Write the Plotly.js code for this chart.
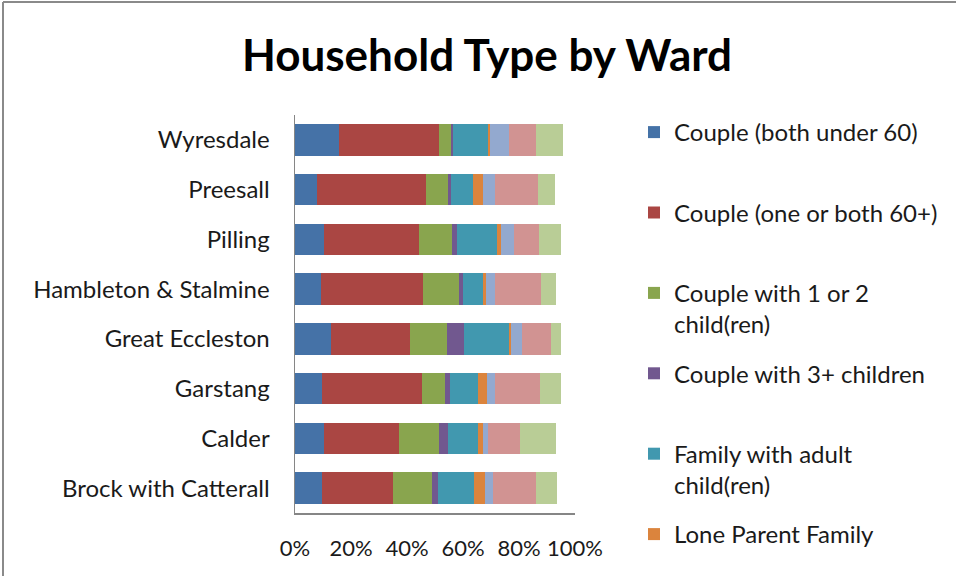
<!DOCTYPE html>
<html>
<head>
<meta charset="utf-8">
<script src="https://cdn.plot.ly/plotly-3.0.1.min.js"></script>
<style>html,body{margin:0;padding:0;background:#fff;}#chart{width:956px;height:576px;}</style>
</head>
<body>
<div id="chart"></div>
<script>
// Wards, bottom to top as drawn
const wards = ["Brock with Catterall","Calder","Garstang","Great Eccleston","Hambleton & Stalmine","Pilling","Preesall","Wyresdale"];

const seriesNames = [
  "Couple (both under 60)",
  "Couple (one or both 60+)",
  "Couple with 1 or 2<br>child(ren)",
  "Couple with 3+ children",
  "Family with adult<br>child(ren)",
  "Lone Parent Family",
  "One person (under 60)",
  "One person (60+)",
  "Other"
];

const coupleUnder60   = [9.8, 10.2, 9.8, 13.0, 9.2, 10.2, 7.9, 15.7];
const couple60plus    = [25.3, 27.1, 35.4, 28.0, 36.4, 34.0, 39.0, 35.7];
const couple1or2      = [13.7, 14.3, 8.2, 13.2, 12.9, 11.9, 7.8, 4.2];
const couple3plus     = [2.2, 3.2, 1.8, 6.1, 1.4, 1.9, 0.9, 1.0];
const familyAdult     = [12.9, 10.5, 10.1, 16.1, 7.3, 14.1, 7.9, 12.3];
const loneParent      = [4.1, 1.8, 3.2, 0.8, 0.9, 1.4, 3.6, 0.9];
const onePersonUnder  = [2.8, 1.8, 3.1, 3.7, 3.3, 4.6, 4.2, 6.6];
const onePerson60     = [15.1, 11.5, 15.8, 10.6, 16.4, 9.1, 15.5, 9.5];
const otherHH         = [7.8, 12.8, 7.7, 3.6, 5.5, 7.9, 6.0, 9.7];

const seriesValues = [coupleUnder60, couple60plus, couple1or2, couple3plus, familyAdult, loneParent, onePersonUnder, onePerson60, otherHH];
const colors = ["#4572A7","#AA4643","#89A54E","#71588F","#4198AF","#DB843D","#93A9CF","#D19392","#B9CD96"];

const tickVals = [0,20,40,60,80,100];

const FONT = "Lato, 'Open Sans', sans-serif";
const VISIBLE_LEGEND = 6;

const traces = seriesValues.map((vals, i) => {
  let nm = seriesNames[i];
  // pad single-line entries to two lines so every legend row has the same pitch
  if (nm.indexOf("<br>") < 0 && i < VISIBLE_LEGEND - 1) nm = nm + "<br>&nbsp;";
  return {
    type: "bar",
    orientation: "h",
    y: wards,
    x: vals,
    name: nm,
    legendgroup: "g" + i,
    showlegend: i < VISIBLE_LEGEND,
    marker: {color: colors[i], line: {width: 0}},
    hoverinfo: "x+y"
  };
});

// frame in paper coords
const L = 295, R = 575, T = 115, B = 513;
const px = v => (v - L) / (R - L);
const py = v => (B - v) / (B - T);

const layout = {
  width: 956, height: 576,
  barmode: "stack",
  bargap: 0.37,
  paper_bgcolor: "#fff",
  plot_bgcolor: "#fff",
  margin: {l: L, r: 956 - R, t: T, b: 576 - B, pad: 0, autoexpand: false},
  font: {family: FONT, size: 24, color: "#1a1a1a"},
  title: {
    text: "<b>Household Type by Ward</b>",
    font: {family: FONT, size: 44, color: "#000"},
    x: 487 / 956, xref: "container", xanchor: "center",
    y: 1 - 56 / 576, yref: "container", yanchor: "middle"
  },
  xaxis: {
    range: [0, 100],
    tickvals: tickVals,
    ticktext: tickVals.map(v => v + "%"),
    tickangle: 0,
    showgrid: false,
    zeroline: false,
    showline: true,
    linecolor: "#868686",
    linewidth: 1.5,
    ticks: "",
    ticklabelstandoff: 15,
    tickfont: {family: FONT, size: 22, color: "#1a1a1a"},
    fixedrange: true,
    automargin: false
  },
  yaxis: {
    categoryorder: "array",
    categoryarray: wards,
    showgrid: false,
    zeroline: false,
    showline: true,
    linecolor: "#868686",
    linewidth: 1.5,
    ticks: "",
    ticklabelstandoff: 19,
    tickfont: {family: FONT, size: 24, color: "#1a1a1a"},
    fixedrange: true,
    automargin: false
  },
  legend: {
    x: px(634), xanchor: "left",
    y: py(110), yanchor: "top",
    valign: "top",
    tracegroupgap: 15,
    traceorder: "grouped",
    maxheight: 700,
    font: {family: FONT, size: 24, color: "#1a1a1a"},
    itemwidth: 30,
    bgcolor: "rgba(0,0,0,0)"
  },
  shapes: [
    {type: "line", xref: "paper", yref: "paper", x0: px(3), x1: px(956), y0: py(2), y1: py(2), line: {color: "#8a8a8a", width: 2}},
    {type: "line", xref: "paper", yref: "paper", x0: px(3), x1: px(3), y0: py(2), y1: py(576), line: {color: "#8a8a8a", width: 2}}
  ]
};

Plotly.newPlot("chart", traces, layout, {displayModeBar: false, staticPlot: true});
</script>
</body>
</html>
